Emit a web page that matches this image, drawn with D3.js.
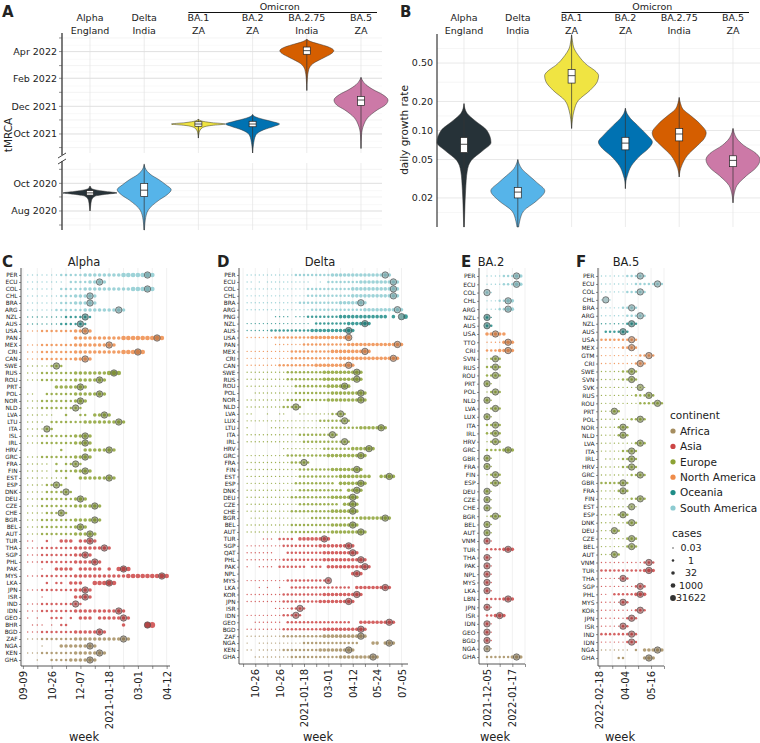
<!DOCTYPE html>
<html><head><meta charset="utf-8">
<script src="https://cdn.jsdelivr.net/npm/d3@7"></script>
<style>body{margin:0;background:#fff;} text{font-family:"DejaVu Sans",sans-serif;fill:#222;}</style>
</head><body><svg id="c" width="760" height="743"></svg>
<script>
// ---------------- DATA ----------------
const variants = ["Alpha","Delta","BA.1","BA.2","BA.2.75","BA.5"];
const origins = ["England","India","ZA","ZA","India","ZA"];
const variantColors = ["#263238","#56b4e9","#f0e442","#0072b2","#d55e00","#cc79a7"];

const tmrcaTicksTop = ["2021-10-01","2021-12-01","2022-02-01","2022-04-01"];
const tmrcaTicksBottom = ["2020-08-01","2020-10-01"];
const tmrcaProfiles = [
 [["2020-08-01",0],["2020-08-10",0.02],["2020-08-25",0.06],["2020-09-03",0.2],["2020-09-07",0.6],["2020-09-10",1],["2020-09-13",0.6],["2020-09-17",0.18],["2020-09-21",0.04],["2020-09-25",0]],
 [["2020-06-20",0.01],["2020-07-12",0.04],["2020-08-03",0.15],["2020-08-25",0.55],["2020-09-06",0.85],["2020-09-17",1],["2020-09-28",0.8],["2020-10-09",0.55],["2020-10-20",0.25],["2020-10-27",0.12],["2020-11-05",0.03],["2020-11-12",0]],
 [["2021-09-22",0],["2021-10-05",0.03],["2021-10-15",0.15],["2021-10-20",0.5],["2021-10-23",1],["2021-10-26",0.5],["2021-10-30",0.1],["2021-11-03",0]],
 [["2021-08-20",0],["2021-09-07",0.03],["2021-09-29",0.12],["2021-10-10",0.4],["2021-10-18",0.8],["2021-10-23",1],["2021-10-28",0.75],["2021-11-03",0.35],["2021-11-08",0.1],["2021-11-13",0]],
 [["2022-01-05",0],["2022-01-31",0.02],["2022-02-20",0.07],["2022-03-05",0.22],["2022-03-19",0.65],["2022-03-27",0.9],["2022-04-03",1],["2022-04-10",0.85],["2022-04-16",0.55],["2022-04-23",0.15],["2022-04-28",0]],
 [["2021-08-30",0],["2021-09-29",0.02],["2021-10-21",0.1],["2021-11-06",0.25],["2021-11-23",0.6],["2021-12-04",0.9],["2021-12-15",1],["2021-12-27",0.8],["2022-01-07",0.45],["2022-01-18",0.18],["2022-02-03",0]]
];
const tmrcaBoxes = [["2020-09-05","2020-09-10","2020-09-15"],["2020-09-02","2020-09-16","2020-10-01"],["2021-10-18","2021-10-23","2021-10-28"],["2021-10-17","2021-10-23","2021-10-29"],["2022-03-26","2022-04-03","2022-04-11"],["2021-12-03","2021-12-15","2021-12-23"]];

const growthTicks = [0.02,0.05,0.1,0.2,0.5];
const growthProfiles = [
 [[0.01,0.01],[0.015,0.03],[0.024,0.06],[0.038,0.12],[0.049,0.27],[0.062,0.7],[0.075,1],[0.1,0.85],[0.127,0.4],[0.15,0.12],[0.175,0.02],[0.19,0]],
 [[0.01,0.03],[0.0115,0.07],[0.0147,0.22],[0.0187,0.7],[0.0237,1],[0.029,0.7],[0.034,0.42],[0.04,0.15],[0.045,0.05],[0.05,0]],
 [[0.105,0],[0.13,0.03],[0.16,0.09],[0.205,0.25],[0.26,0.68],[0.32,0.95],[0.37,1],[0.42,0.85],[0.47,0.6],[0.6,0.25],[0.7,0.1],[0.85,0.03],[0.98,0]],
 [[0.025,0],[0.03,0.02],[0.034,0.07],[0.043,0.22],[0.055,0.55],[0.065,0.85],[0.076,1],[0.09,0.8],[0.113,0.45],[0.134,0.18],[0.15,0.06],[0.17,0]],
 [[0.033,0],[0.038,0.03],[0.043,0.09],[0.055,0.3],[0.07,0.68],[0.082,0.92],[0.095,1],[0.115,0.8],[0.143,0.42],[0.165,0.15],[0.19,0.05],[0.22,0]],
 [[0.0178,0],[0.0226,0.05],[0.027,0.15],[0.034,0.5],[0.041,0.85],[0.05,1],[0.058,0.85],[0.07,0.4],[0.082,0.15],[0.095,0.04],[0.105,0]]
];
const growthBoxes = [[0.059,0.072,0.0846],[0.020,0.023,0.0257],[0.31,0.37,0.43],[0.063,0.074,0.085],[0.078,0.092,0.105],[0.0422,0.049,0.0547]];

const continentNames = ["Africa","Asia","Europe","North America","Oceania","South America"];
const continentCodes = ["F","A","E","N","O","S"];
const continentColors = ["#a58d5f","#cc4545","#8ca234","#ef8c4a","#1e8c87","#8dcbd1"];
const casesLevels = [0.03, 1, 32, 1000, 31622];

// Panel C: Alpha
const alphaCountries = ["PER","ECU","COL","CHL","BRA","ARG","NZL","AUS","USA","PAN","MEX","CRI","CAN","SWE","RUS","ROU","PRT","POL","NOR","NLD","LVA","LTU","ITA","ISL","IRL","HRV","GRC","FRA","FIN","EST","ESP","DNK","DEU","CZE","CHE","BGR","BEL","AUT","TUR","THA","SGP","PHL","PAK","MYS","LKA","JPN","ISR","IND","IDN","GEO","BHR","BGD","ZAF","NGA","KEN","GHA"];
const alphaContinents = "SSSSSSOONNNNNEEEEEEEEEEEEEEEEEEEEEEEEEAAAAAAAAAAAAAAFFFF";
const alphaWeeks = ["1-7:1 8-12:2 13-20:3 21-27:4","1-8:1 10-13:2 14-17:3","1-6:1 8-12:2 13-22:3 23-27:4","1-7:1 8-10:2 11-15:3","1-7:1 8-10:2 11-15:3","1-6:1 7-12:2 13-21:3","1-8:1 9-14:2","1-7:1 8-13:2","1-3:1 4-10:2 11-14:3","11-20:3 21-29:4","1-3:1 4-10:2 11-19:3","1-3:1 4-10:2 11-20:3 21-25:4","1-3:1 4-10:2 11-14:3","1-5:1 6-8:2","1-3:1 4-10:2 11-17:3 18-20:4","1-3:1 4-10:2 11-17:3","7-13:3","1-2:1 5-10:2 11-17:3","1-3:1 4-10:2 11-13:3","1-3:1 4-12:2","1-6:1 9-9:2 12-13:2 15-18:3","1-4:1 6-12:2 13-21:3","1-4:1 5-6:2","1-3:1 4-10:2 11-14:3","1-3:1 4-10:2 11-14:3","8-8:2 13-19:3","1-3:1 4-10:2 11-14:3","1-5:1 7-7:2 9-12:2","1-5:1 7-10:2 11-14:3","1-8:1 9-9:2 12-19:3","1-4:1 5-8:2","1-4:1 5-10:2","1-3:1 4-10:2 11-13:3","1-3:1 4-10:2 11-16:3","1-4:1 5-9:2","1-3:1 4-10:2 11-16:3","1-3:1 4-10:2 11-13:3","1-3:1 4-10:2 11-15:3","1-2:1 5-5:2 8-10:3 12-15:3","1-3:1 4-10:2 11-18:3","1-3:1 4-10:2 11-14:3","1-3:1 4-10:2 11-16:3","4-4:1 7-10:3 12-16:3 18-18:3 20-22:4","1-3:1 4-10:2 11-21:3 22-30:4","5-5:2 7-8:2 10-12:3 15-19:4","1-3:1 4-10:2 11-14:3","4-4:1 11-14:3","1-3:1 4-12:2","1-3:1 4-10:2 11-21:3","1-1:1 3-3:1 6-8:2 10-10:2 12-14:3 16-22:3","2-4:1 6-6:1 8-9:2 21-21:3 26-27:5","1-3:1 4-10:2 11-17:3","1-3:1 4-10:2 11-22:3","4-4:1 8-15:3","1-3:1 4-10:2 11-17:3","3-3:1 6-9:2 10-15:3"];
const alphaMarkers = [26,16,26,14,14,20,13,12,13,28,18,24,13,7,19,16,12,16,12,11,17,20,5,13,13,18,13,11,13,18,7,9,12,15,8,15,12,14,14,17,13,15,21,29,18,13,13,11,20,21,26,16,21,14,16,14];
const alphaTickLabels = ["09-09","10-26","12-07","2021-01-18","03-01","04-12"];

// Panel D: Delta
const deltaCountries = ["PER","ECU","COL","CHL","BRA","ARG","PNG","NZL","AUS","USA","PAN","MEX","CRI","CAN","SWE","RUS","ROU","POL","NOR","NLD","LVA","LUX","LTU","ITA","IRL","HRV","GRC","FRA","FIN","EST","ESP","DNK","DEU","CZE","CHE","BGR","BEL","AUT","TUR","SGP","QAT","PHL","PAK","NPL","MYS","LKA","KOR","JPN","ISR","IDN","GEO","BGD","ZAF","NGA","KEN","GHA"];
const deltaContinents = "SSSSSSOOONNNNNEEEEEEEEEEEEEEEEEEEEEEEEAAAAAAAAAAAAAAFFFF";
const deltaWeeks = ["0-11:1 12-20:2 21-35:3","0-1:1 3-3:1 5-15:1 18-18:1 20-27:2 28-37:3","0-14:1 15-25:2 26-37:3","0-14:1 15-25:2 26-37:3","0-12:1 13-22:2 23-29:3","0-15:1 16-28:2 29-38:3","7-10:1 12-14:1 15-22:2 23-34:3 36-36:3 39-39:4","0-15:1 17-24:2 25-30:3","0-5:1 6-15:2 16-26:3","0-6:1 7-15:2 16-25:3","7-13:1 14-24:2 25-38:3","0-10:1 11-20:2 21-30:3","0-10:1 11-22:2 23-37:3","0-7:1 8-16:2 17-26:3","0-9:1 10-18:2 19-28:3","0-9:1 10-18:2 19-28:3","0-11:1 12-19:2 20-25:3","2-11:1 12-20:2 21-29:3","0-9:1 10-19:2 20-29:3","0-8:1 9-13:2","0-1:1 5-5:1 8-9:1 13-20:1 21-24:2","0-17:1 18-25:2","0-0:1 6-20:1 21-27:2 28-34:3","0-12:1 13-22:2","0-13:1 14-25:2","9-18:1 19-25:2 26-31:3","0-9:1 10-19:2 20-29:3","0-10:1 11-15:2","0-12:1 13-20:2 21-28:3","0-12:1 13-22:2 23-30:3 33-36:3","0-11:1 12-21:2 23-29:3","0-12:1 13-23:2 25-28:3","0-10:1 11-20:2 21-27:3","0-12:1 13-22:2 24-27:3","0-10:1 11-20:2 21-27:3","1-15:1 16-27:2 28-35:3","0-10:1 11-20:2 21-27:3","0-10:1 11-20:2 21-29:3","4-6:1 8-11:2 13-20:3","0-8:1 9-17:2 18-26:3","0-6:1 10-18:2 19-27:3","0-8:1 9-18:2 19-29:3","0-0:1 3-6:1 8-13:2 14-14:2 16-18:2 20-30:3","26-28:3","0-9:1 10-20:2","3-3:1 5-5:1 8-8:1 11-25:2 27-35:3","0-8:1 9-18:2 19-28:3","0-8:1 9-17:2 18-26:3","7-10:1 11-14:2","0-8:1 9-13:2","2-8:1 10-17:2 18-25:2 28-36:3","0-8:1 9-18:2 19-29:3","0-8:1 9-18:2 19-29:3","0-0:1 3-13:1 14-27:2 31-32:3 34-36:3","0-1:1 3-8:1 9-17:2 18-26:3","2-10:1 11-22:2 23-32:3"];
const deltaMarkers = [34,36,36,36,28,37,38,29,25,25,37,29,36,25,27,27,24,28,28,12,23,24,33,21,24,30,28,14,27,35,28,27,26,26,26,34,26,28,19,25,26,28,29,27,20,34,27,25,13,12,35,28,28,35,25,31];
const deltaTickLabels = ["10-26","10-26","2021-01-18","03-01","04-12","05-24","07-05"];

// Panel E: BA.2
const ba2Countries = ["PER","ECU","COL","CHL","ARG","NZL","AUS","USA","TTO","CRI","SVN","RUS","ROU","PRT","POL","NLD","LVA","LUX","ITA","IRL","HRV","GRC","GBR","FRA","FIN","ESP","DEU","CZE","CHE","BGR","BEL","AUT","VNM","TUR","THA","PAK","NPL","MYS","LKA","LBN","JPN","ISR","IDN","GEO","BGD","NGA","GHA"];
const ba2Continents = "SSSSSOONNNEEEEEEEEEEEEEEEEEEEEEEAAAAAAAAAAAAAFF";
const ba2Weeks = ["0-3:1 4-6:2 7-8:3","0-3:1 4-6:2 7-8:3","0-0:2 1-1:1","0-2:1 3-4:2 5-6:3","0-2:1 3-4:2 5-6:3","0-0:2 1-1:1","0-1:2","0-4:3","0-3:1 4-6:3","0-2:2 3-6:3","0-0:1 1-3:2","0-3:2","0-3:2","0-0:2 1-1:1","0-0:1 1-3:2","0-0:2 1-1:1","0-0:1 1-3:2","0-0:2 1-1:1","0-3:2","0-3:2","0-0:1 1-3:2","0-3:2 4-6:3","0-0:2 1-1:1","0-0:2 1-1:1","0-0:1 1-3:2","1-3:2","0-0:2 1-1:1","0-0:2 1-1:1","0-0:2 1-1:1","0-0:1 1-3:2","0-0:2 1-1:1","0-0:2 1-1:1","0-0:2 1-1:1","0-3:2 4-6:3","0-0:2 1-1:1","0-0:2 1-1:1","0-0:2 1-1:1","0-0:2 1-1:1","0-0:2 1-1:1","0-3:2 4-6:3","0-0:2 1-1:1","0-1:2 2-4:3","0-0:2 1-1:1","0-0:2 1-1:1","0-0:2 1-1:1","0-0:2 1-1:1","0-5:2 6-8:3"];
const ba2Markers = [7,7,0,5,5,0,0,2,5,5,2,2,2,0,2,0,2,0,2,2,2,5,0,0,2,2,0,0,0,2,0,0,0,5,0,0,0,0,0,5,0,3,0,0,0,0,7];
const ba2TickLabels = ["2021-12-05","2022-01-17"];

// Panel F: BA.5
const ba5Countries = ["PER","ECU","COL","CHL","BRA","ARG","NZL","AUS","USA","MEX","GTM","CRI","SWE","SVN","SVK","RUS","ROU","PRT","POL","NOR","NLD","LVA","ITA","IRL","HRV","GRC","GBR","FRA","FIN","EST","ESP","DNK","DEU","CZE","BEL","AUT","VNM","TUR","THA","SGP","PHL","MYS","KOR","JPN","ISR","IND","IDN","NGA","GHA"];
const ba5Continents = "SSSSSSOONNNNEEEEEEEEEEEEEEEEEEEEEEEEAAAAAAAAAAAFF";
const ba5Weeks = ["0-5:1 6-10:2","0-7:1 8-14:2","0-5:1 6-10:2","0-0:1 2-2:1","0-4:1 5-8:2","0-5:1 6-10:2","0-5:1 6-8:2","1-6:2","0-8:2","0-4:1 5-8:2","0-8:1 9-12:2","0-7:1 8-10:2","0-4:1 5-8:2","0-4:1 5-8:2","0-10:1","0-7:1 8-12:2","0-8:1 9-14:2","0-2:1 3-4:2","0-6:1 7-10:2","0-3:1 4-6:2","0-3:1 4-6:2","0-7:1 8-10:2","0-4:1 5-8:2","1-4:1 5-8:2","0-4:1 5-8:2","0-6:1 7-10:2","0-6:2","0-3:1 4-6:2","0-6:1 7-10:2","0-8:1","0-3:1 4-6:2","0-5:1 6-8:2","0-2:1 3-4:2","0-5:1 6-8:2","0-5:1 6-8:2","0-2:1 3-4:2","0-9:1 10-12:2","0-9:2 10-12:3","0-4:1 5-6:2","0-7:1 8-10:2","0-1:1 3-7:2 8-10:3","0-4:1 5-6:2","0-7:1 8-10:2","0-5:1 6-8:2","0-4:1 5-6:2","0-8:2","0-5:1 6-8:2","0-6:1 8-8:2 10-14:3","4-5:2 10-12:3"];
const ba5Markers = [9,13,9,1,7,9,7,5,7,7,11,9,7,7,9,11,13,3,9,5,5,9,7,7,7,9,5,5,9,7,5,7,3,7,7,3,11,11,5,9,9,5,9,7,5,7,7,13,11];
const ba5TickLabels = ["2022-02-18","04-04","05-16"];

// ---------------- DRAWING ----------------
const svg = d3.select("#c");
const P = d3.timeParse("%Y-%m-%d");
const FONT = "DejaVu Sans";

function txt(g, x, y, s, size, anchor, extra) {
  const t = g.append("text").attr("x", x).attr("y", y).attr("font-size", size).attr("text-anchor", anchor || "start").text(s);
  if (extra) extra(t);
  return t;
}

// Headers for A and B
function headers(xs) {
  variants.forEach((v, i) => {
    txt(svg, xs(v), 21, v, 9.5, "middle");
    txt(svg, xs(v), 33.5, origins[i], 9.5, "middle");
  });
  const om = variants.slice(2);
  const x0 = xs(om[0]) - 10, x1 = xs(om[om.length - 1]) + 16;
  svg.append("line").attr("x1", x0).attr("x2", x1).attr("y1", 12.5).attr("y2", 12.5).attr("stroke", "#111").attr("stroke-width", 1);
  txt(svg, (xs(om[0]) + xs(om[om.length - 1])) / 2, 9.5, "Omicron", 9.5, "middle");
}

// ---- Panel A ----
const xA = d3.scalePoint().domain(variants).range([90, 361]);
const yTop = d3.scaleTime().domain([P("2021-08-20"), P("2022-05-12")]).range([153, 33]);
const yBot = d3.scaleTime().domain([P("2020-06-20"), P("2020-11-15")]).range([230, 163]);
const gA = svg.append("g");
[yTop, yBot].forEach(ys => {
  const [d0, d1] = ys.domain();
  d3.timeMonth.range(d0, d1).forEach(m => {
    gA.append("line").attr("x1", 62).attr("x2", 382).attr("y1", ys(m)).attr("y2", ys(m)).attr("stroke", "#ebebeb").attr("stroke-width", 0.6);
    const h = d3.timeDay.offset(m, 14);
    if (h < d1) gA.append("line").attr("x1", 62).attr("x2", 382).attr("y1", ys(h)).attr("y2", ys(h)).attr("stroke", "#f3f3f3").attr("stroke-width", 0.5);
    gA.append("line").attr("x1", 59).attr("x2", 62).attr("y1", ys(m)).attr("y2", ys(m)).attr("stroke", "#444").attr("stroke-width", 0.6);
  });
  variants.forEach(v => gA.append("line").attr("x1", xA(v)).attr("x2", xA(v)).attr("y1", ys.range()[1]).attr("y2", ys.range()[0]).attr("stroke", "#e4e4e4").attr("stroke-width", 0.7));
});
tmrcaTicksTop.forEach(t => {
  gA.append("line").attr("x1", 62).attr("x2", 382).attr("y1", yTop(P(t))).attr("y2", yTop(P(t))).attr("stroke", "#dedede").attr("stroke-width", 0.8);
  txt(gA, 57, yTop(P(t)) + 3.3, d3.timeFormat("%b %Y")(P(t)), 9.5, "end");
});
tmrcaTicksBottom.forEach(t => {
  gA.append("line").attr("x1", 62).attr("x2", 382).attr("y1", yBot(P(t))).attr("y2", yBot(P(t))).attr("stroke", "#dedede").attr("stroke-width", 0.8);
  txt(gA, 57, yBot(P(t)) + 3.3, d3.timeFormat("%b %Y")(P(t)), 9.5, "end");
});
gA.append("line").attr("x1", 62).attr("x2", 62).attr("y1", 33).attr("y2", 155).attr("stroke", "#444").attr("stroke-width", 1.4);
gA.append("line").attr("x1", 62).attr("x2", 62).attr("y1", 161).attr("y2", 230).attr("stroke", "#444").attr("stroke-width", 1.4);
gA.append("line").attr("x1", 58).attr("x2", 66).attr("y1", 158).attr("y2", 153).attr("stroke", "#444").attr("stroke-width", 1);
gA.append("line").attr("x1", 58).attr("x2", 66).attr("y1", 164).attr("y2", 159).attr("stroke", "#444").attr("stroke-width", 1);
txt(gA, 0, 0, "tMRCA", 10.5, "middle", t => t.attr("transform", "translate(12,135) rotate(-90)"));

function drawViolin(g, prof, yf, cx, color, box) {
  const area = d3.area().y(d => yf(d[0])).x0(d => cx - d[1] * 27).x1(d => cx + d[1] * 27).curve(d3.curveMonotoneY);
  g.append("path").attr("d", area(prof)).attr("fill", color).attr("stroke", "#333").attr("stroke-width", 0.5);
  g.append("line").attr("x1", cx).attr("x2", cx).attr("y1", yf(prof[0][0])).attr("y2", yf(prof[prof.length - 1][0])).attr("stroke", "#333").attr("stroke-width", 0.7);
  const ya = yf(box[0]), yb = yf(box[2]);
  g.append("rect").attr("x", cx - 3.5).attr("width", 7).attr("y", Math.min(ya, yb)).attr("height", Math.abs(ya - yb)).attr("fill", "#fff").attr("stroke", "#222").attr("stroke-width", 0.7);
  g.append("line").attr("x1", cx - 3.5).attr("x2", cx + 3.5).attr("y1", yf(box[1])).attr("y2", yf(box[1])).attr("stroke", "#222").attr("stroke-width", 0.8);
}
variants.forEach((v, i) => {
  const prof = tmrcaProfiles[i].map(d => [P(d[0]), d[1]]);
  const ys = prof[0][0].getFullYear() < 2021 ? yBot : yTop;
  drawViolin(gA, prof, ys, xA(v), variantColors[i], tmrcaBoxes[i].map(P));
});
headers(xA);
txt(svg, 2, 17, "A", 15, "start", t => t.attr("font-weight", "bold"));

// ---- Panel B ----
const xB = d3.scalePoint().domain(variants).range([464, 733]);
const yB = d3.scaleLog().domain([0.01, 1]).range([227, 34]);
const gB = svg.append("g");
const majorPix = [yB(0.01)].concat(growthTicks.map(yB)).concat([yB(1)]);
for (let k = 0; k < majorPix.length - 1; k++) {
  const m = (majorPix[k] + majorPix[k + 1]) / 2;
  gB.append("line").attr("x1", 437).attr("x2", 760).attr("y1", m).attr("y2", m).attr("stroke", "#f0f0f0").attr("stroke-width", 0.6);
}
growthTicks.forEach(t => {
  gB.append("line").attr("x1", 437).attr("x2", 760).attr("y1", yB(t)).attr("y2", yB(t)).attr("stroke", "#e2e2e2").attr("stroke-width", 0.8);
  txt(gB, 433, yB(t) + 3.3, d3.format(".2f")(t), 9.5, "end");
});
variants.forEach(v => gB.append("line").attr("x1", xB(v)).attr("x2", xB(v)).attr("y1", 34).attr("y2", 227).attr("stroke", "#e4e4e4").attr("stroke-width", 0.7));
gB.append("line").attr("x1", 437).attr("x2", 437).attr("y1", 34).attr("y2", 227).attr("stroke", "#111").attr("stroke-width", 1);
txt(gB, 0, 0, "daily growth rate", 10.5, "middle", t => t.attr("transform", "translate(408,130) rotate(-90)"));
variants.forEach((v, i) => drawViolin(gB, growthProfiles[i], yB, xB(v), variantColors[i], growthBoxes[i]));
headers(xB);
txt(svg, 400, 17, "B", 15, "start", t => t.attr("font-weight", "bold"));

// ---- Dot panels ----
const rCases = d3.scaleLinear().domain([Math.log10(0.03), Math.log10(31622)]).range([0.7, 2.9]);
const colorOf = code => continentColors[continentCodes.indexOf(code)];
function parseRuns(s) {
  const out = [];
  s.split(" ").forEach(tok => {
    const [rng, lv] = tok.split(":");
    const [a, b] = rng.split("-").map(Number);
    for (let w = a; w <= b; w++) out.push({ w, level: +lv });
  });
  return out;
}
function dotPanel(p) {
  const g = svg.append("g");
  const x = d3.scaleLinear().domain(p.xDomain).range(p.xRange);
  const y = d3.scalePoint().domain(p.countries).range(p.yRange);
  p.grid.forEach(w => g.append("line").attr("x1", x(w)).attr("x2", x(w)).attr("y1", p.top).attr("y2", p.axisY).attr("stroke", "#ebebeb").attr("stroke-width", 0.7));
  p.countries.forEach((c, i) => {
    const col = colorOf(p.conts[i]);
    g.append("g").selectAll("circle").data(parseRuns(p.weeks[i])).join("circle")
      .attr("cx", d => x(d.w)).attr("cy", y(c)).attr("r", d => rCases(Math.log10(casesLevels[d.level - 1])))
      .attr("fill", col).attr("fill-opacity", 0.85);
    g.append("circle").attr("cx", x(p.markers[i])).attr("cy", y(c)).attr("r", 3.2)
      .attr("fill", d3.color(col).darker(0.9)).attr("fill-opacity", 0.55).attr("stroke", "#555").attr("stroke-width", 0.7);
  });
  const ya = g.append("g").attr("transform", `translate(${p.xRange[0]},0)`).call(d3.axisLeft(y).tickSize(2).tickPadding(1.5));
  ya.select(".domain").remove();
  ya.selectAll("text").attr("font-size", p.labelSize).attr("font-family", FONT).attr("fill", "#222");
  ya.selectAll("line").attr("stroke", "#444").attr("stroke-width", 0.6);
  g.append("line").attr("x1", p.xRange[0]).attr("x2", p.xRange[0]).attr("y1", p.top).attr("y2", p.axisY).attr("stroke", "#444").attr("stroke-width", 0.9);
  const xa = g.append("g").attr("transform", `translate(0,${p.axisY})`)
    .call(d3.axisBottom(x).tickValues(p.grid).tickSize(3).tickFormat(w => { const k = p.ticks.indexOf(w); return k >= 0 ? p.tickLabels[k] : ""; }));
  xa.select(".domain").attr("stroke", "#444").attr("stroke-width", 0.9).attr("d", `M${p.xRange[0]},0H${p.xRange[1]}`);
  xa.selectAll("line").attr("stroke", "#444").attr("stroke-width", 0.6);
  xa.selectAll("text").attr("transform", "rotate(-90)").attr("x", -5).attr("y", 0).attr("dy", "0.35em")
    .attr("text-anchor", "end").attr("font-size", 10).attr("font-family", FONT).attr("fill", "#222");
  txt(svg, p.titleX, 266, p.title, 11.5, "middle");
  txt(svg, p.letterX, 267, p.letter, 15, "start", t => t.attr("font-weight", "bold"));
  txt(svg, p.weekX, 741, "week", 11.5, "middle");
}

dotPanel({ countries: alphaCountries, conts: alphaContinents, weeks: alphaWeeks, markers: alphaMarkers,
  xDomain: [-0.4, 30.7], xRange: [21, 170], yRange: [275, 660], top: 268, axisY: 666,
  grid: d3.range(0, 31, 3), ticks: [0, 6, 12, 18, 24, 30], tickLabels: alphaTickLabels, labelSize: 5.8,
  title: "Alpha", titleX: 84, letter: "C", letterX: 2, weekX: 84 });
dotPanel({ countries: deltaCountries, conts: deltaContinents, weeks: deltaWeeks, markers: deltaMarkers,
  xDomain: [-2, 39.6], xRange: [239, 408], yRange: [275, 657], top: 268, axisY: 664,
  grid: d3.range(-1, 40, 3), ticks: [2, 8, 14, 20, 26, 32, 38], tickLabels: deltaTickLabels, labelSize: 5.8,
  title: "Delta", titleX: 320, letter: "D", letterX: 217, weekX: 318 });
dotPanel({ countries: ba2Countries, conts: ba2Continents, weeks: ba2Weeks, markers: ba2Markers,
  xDomain: [-1.9, 9], xRange: [479, 525], yRange: [276, 657], top: 268, axisY: 664,
  grid: [0, 3, 6, 9], ticks: [0, 6], tickLabels: ba2TickLabels, labelSize: 6,
  title: "BA.2", titleX: 491, letter: "E", letterX: 461, weekX: 495 });
dotPanel({ countries: ba5Countries, conts: ba5Continents, weeks: ba5Weeks, markers: ba5Markers,
  xDomain: [-0.8, 14.5], xRange: [598, 664], yRange: [276, 658], top: 268, axisY: 666,
  grid: [-0.5, 2.5, 5.5, 8.5, 11.5, 14.5], ticks: [-0.5, 5.5, 11.5], tickLabels: ba5TickLabels, labelSize: 6,
  title: "BA.5", titleX: 626, letter: "F", letterX: 576, weekX: 620 });

// ---- Legends ----
const gL = svg.append("g");
txt(gL, 670, 419, "continent", 10.5, "start");
continentNames.forEach((n, i) => {
  const yy = 431 + i * 15.4;
  gL.append("circle").attr("cx", 673).attr("cy", yy).attr("r", 2.6).attr("fill", continentColors[i]);
  txt(gL, 680, yy + 3.8, n, 10.5, "start");
});
txt(gL, 672, 537, "cases", 10.5, "start");
casesLevels.forEach((v, i) => {
  const yy = 548 + i * 12.5;
  gL.append("circle").attr("cx", 673).attr("cy", yy).attr("r", rCases(Math.log10(v))).attr("fill", "#333");
  txt(gL, 691, yy + 3.4, String(v), 9.5, "middle");
});
</script></body></html>
